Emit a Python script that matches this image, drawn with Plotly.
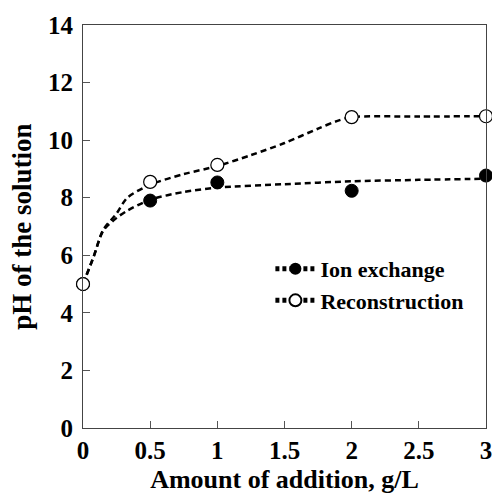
import plotly.graph_objects as go

# measured points
dose = [0, 0.5, 1, 2, 3]
ion_ph = [5.0, 7.9, 8.53, 8.24, 8.77]
rec_ph = [5.0, 8.55, 9.14, 10.8, 10.83]

# fitted (dashed) curves
ion_fit_x = [0, 0.08, 0.15, 0.25, 0.33, 0.5, 0.75, 1, 1.5, 2, 2.5, 3]
ion_fit_y = [5.0, 5.96, 6.85, 7.3, 7.55, 7.93, 8.2, 8.35, 8.47, 8.57, 8.62, 8.66]
rec_fit_x = [0, 0.08, 0.15, 0.25, 0.33, 0.5, 0.75, 1, 1.25, 1.5, 1.75, 1.9, 2, 2.5, 3]
rec_fit_y = [5.0, 5.96, 6.88, 7.45, 8.0, 8.45, 8.82, 9.1, 9.48, 9.9, 10.4, 10.68, 10.8, 10.82, 10.83]

x_ticks = [0, 0.5, 1, 1.5, 2, 2.5, 3]
x_tick_text = ["0", "0.5", "1", "1.5", "2", "2.5", "3"]
y_ticks = [0, 2, 4, 6, 8, 10, 12, 14]

FONT = "Liberation Serif"
dash = "6px,4px"

def bfont(size):
    return dict(family=FONT, size=size, color="black", weight="bold")

fig = go.Figure()
fig.add_trace(go.Scatter(x=ion_fit_x, y=ion_fit_y, mode="lines",
                         line=dict(color="black", width=2.5, dash=dash, shape="spline", smoothing=0.8),
                         showlegend=False, hoverinfo="skip"))
fig.add_trace(go.Scatter(x=rec_fit_x, y=rec_fit_y, mode="lines",
                         line=dict(color="black", width=2.5, dash=dash, shape="spline", smoothing=0.8),
                         showlegend=False, hoverinfo="skip"))
fig.add_trace(go.Scatter(x=dose, y=ion_ph, mode="markers", showlegend=False, cliponaxis=False,
                         marker=dict(symbol="circle", size=13, color="black", line=dict(color="black", width=1))))
fig.add_trace(go.Scatter(x=dose, y=rec_ph, mode="markers", showlegend=False, cliponaxis=False,
                         marker=dict(symbol="circle", size=13, color="white", line=dict(color="black", width=1.2))))

# legend entries (line + marker symbol)
fig.add_trace(go.Scatter(x=[None], y=[None], mode="lines+markers", name="Ion exchange",
                         marker=dict(symbol="circle", size=13, color="black"),
                         line=dict(color="black", width=2.5, dash="4px,3px")))
fig.add_trace(go.Scatter(x=[None], y=[None], mode="lines+markers", name="Reconstruction",
                         marker=dict(symbol="circle", size=13, color="white", line=dict(color="black", width=1.2)),
                         line=dict(color="black", width=2.5, dash="4px,3px")))

fig.update_layout(
    width=492, height=494,
    margin=dict(l=83, r=6, t=25, b=66),
    paper_bgcolor="white", plot_bgcolor="white",
    font=dict(family=FONT, color="black", weight="bold"),
    showlegend=True,
    legend=dict(x=0.465, y=0.355, xanchor="left", yanchor="middle", bgcolor="rgba(0,0,0,0)",
                font=bfont(22), tracegroupgap=0, itemsizing="constant", itemwidth=40),
    xaxis=dict(range=[0, 3], tickvals=x_ticks, ticktext=x_tick_text, ticks="inside", ticklen=7,
               tickcolor="#555", showline=True, linecolor="#444", linewidth=1, mirror=True,
               showgrid=False, zeroline=False, automargin=False, ticklabeloverflow="allow",
               tickfont=bfont(25),
               title=dict(text="Amount of addition, g/L", font=bfont(26), standoff=6)),
    yaxis=dict(range=[0, 14], tickvals=y_ticks, ticks="inside", ticklen=7,
               tickcolor="#555", showline=True, linecolor="#444", linewidth=1, mirror=True,
               showgrid=False, zeroline=False, automargin=False, ticklabeloverflow="allow",
               tickfont=bfont(25), ticklabelstandoff=4,
               title=dict(text="pH of the solution", font=bfont(27), standoff=8)),
)

fig.write_html("out.html")
